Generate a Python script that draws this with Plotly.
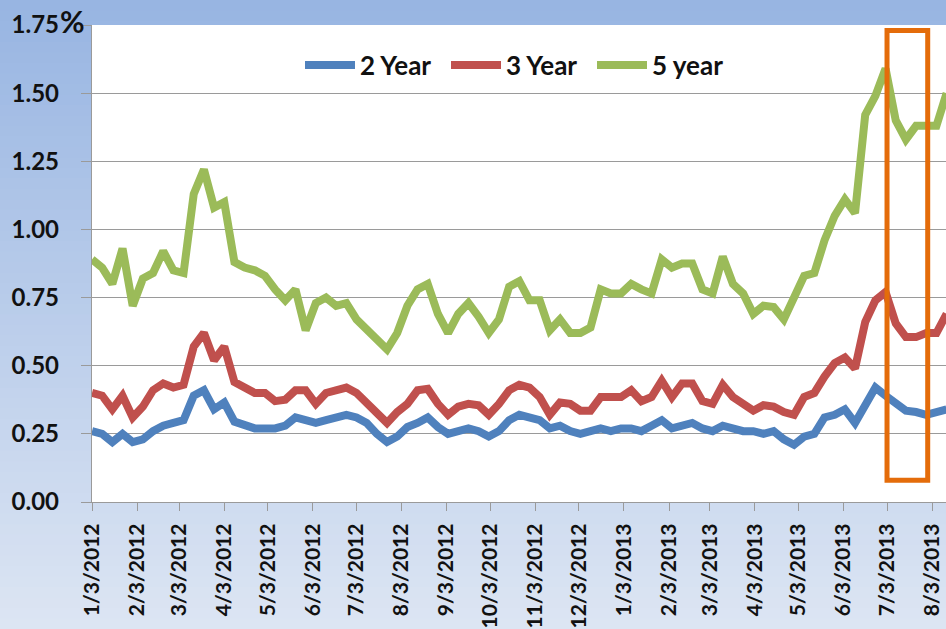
import pandas as pd
import plotly.graph_objects as go

# Weekly observations (Tuesdays) starting 3 Jan 2012
start_date = "2012-01-03"
n_weeks = 85

yield_2y = [
    0.26, 0.25, 0.22, 0.25, 0.22, 0.23, 0.26, 0.28, 0.29, 0.30,
    0.39, 0.41, 0.34, 0.365, 0.295, 0.28, 0.27, 0.27, 0.27, 0.28,
    0.31, 0.30, 0.29, 0.30, 0.31, 0.32, 0.31, 0.29, 0.25, 0.22,
    0.24, 0.275, 0.29, 0.31, 0.275, 0.25, 0.26, 0.27, 0.26, 0.24,
    0.26, 0.30, 0.32, 0.31, 0.30, 0.27, 0.28, 0.26, 0.25, 0.26,
    0.27, 0.26, 0.27, 0.27, 0.26, 0.28, 0.30, 0.27, 0.28, 0.29,
    0.27, 0.26, 0.28, 0.27, 0.26, 0.26, 0.25, 0.26, 0.23, 0.21,
    0.24, 0.25, 0.31, 0.32, 0.34, 0.29, 0.36, 0.42, 0.39, 0.36,
    0.335, 0.33, 0.32, 0.33, 0.34,
]

yield_3y = [
    0.40, 0.39, 0.34, 0.39, 0.31, 0.35, 0.41, 0.435, 0.42, 0.43,
    0.57, 0.62, 0.52, 0.57, 0.44, 0.42, 0.40, 0.40, 0.37, 0.375,
    0.41, 0.41, 0.36, 0.40, 0.41, 0.42, 0.40, 0.365, 0.32, 0.29,
    0.33, 0.36, 0.41, 0.415, 0.36, 0.32, 0.35, 0.36, 0.355, 0.32,
    0.36, 0.41, 0.43, 0.42, 0.385, 0.32, 0.365, 0.36, 0.335, 0.335,
    0.385, 0.385, 0.385, 0.41, 0.37, 0.385, 0.445, 0.385, 0.435, 0.435,
    0.37, 0.36, 0.43, 0.385, 0.36, 0.335, 0.355, 0.35, 0.33, 0.32,
    0.385, 0.40, 0.46, 0.51, 0.53, 0.49, 0.66, 0.74, 0.77, 0.655,
    0.605, 0.605, 0.62, 0.62, 0.69,
]

yield_5y = [
    0.89, 0.86, 0.80, 0.93, 0.72, 0.82, 0.84, 0.92, 0.85, 0.84,
    1.13, 1.22, 1.08, 1.10, 0.88, 0.86, 0.85, 0.83, 0.78, 0.74,
    0.78, 0.63, 0.73, 0.75, 0.72, 0.73, 0.67, 0.635, 0.605, 0.56,
    0.62, 0.72, 0.78, 0.80, 0.69, 0.62, 0.69, 0.73, 0.68, 0.62,
    0.67, 0.79, 0.81, 0.74, 0.74, 0.63, 0.67, 0.62, 0.62, 0.64,
    0.78, 0.765, 0.765, 0.80, 0.78, 0.765, 0.89, 0.86, 0.875, 0.875,
    0.78, 0.765, 0.90, 0.80, 0.765, 0.69, 0.72, 0.715, 0.67, 0.75,
    0.83, 0.84, 0.96, 1.05, 1.11, 1.06, 1.42, 1.49, 1.59, 1.40,
    1.33, 1.38, 1.38, 1.38, 1.50,
]

series_names = ["2 Year", "3 Year", "5 year"]
series_colors = ["#4F81BD", "#C0504D", "#9BBB59"]

# Monthly tick marks on the 3rd of each month
tick_dates = pd.date_range("2012-01-03", "2013-08-03", freq=pd.DateOffset(months=1))
tick_labels = [f"{d.month}/{d.day}/{d.year}" for d in tick_dates]

x_range = ["2012-01-03", "2013-08-12 14:00"]
y_ticks = [0, 0.25, 0.5, 0.75, 1.0, 1.25, 1.5, 1.75]

# Highlighted window
highlight_start = "2013-07-03"
highlight_end = "2013-07-31"
highlight_low = 0.08
highlight_high = 1.73

dates = pd.date_range(start_date, periods=n_weeks, freq="7D")

W, H = 946, 629
ML, MR, MT, MB = 92, 0, 25, 127
FONT = dict(family="Lato", size=24, color="#111111", weight="bold")
XTICK_FONT = dict(family="Lato", size=21, color="#111111", weight="bold")
LEGEND_FONT = dict(family="Lato", size=26, color="#111111", weight="bold")
GRID = "#9a9a9a"

fig = go.Figure()
for name, color, vals in zip(series_names, series_colors, [yield_2y, yield_3y, yield_5y]):
    fig.add_trace(go.Scatter(
        x=dates, y=vals, name=name, mode="lines",
        line=dict(color=color, width=8),
    ))

# Vertical blue gradient behind the whole figure
plot_w = W - ML - MR
plot_h = H - MT - MB
top_c = (152, 181, 226)
bot_c = (220, 229, 243)
n_bands = 60
shapes = []
for i in range(n_bands):
    t = i / (n_bands - 1)
    c = tuple(round(top_c[j] + (bot_c[j] - top_c[j]) * t) for j in range(3))
    py0 = H * i / n_bands
    py1 = H * (i + 1) / n_bands + 1
    shapes.append(dict(
        type="rect", xref="paper", yref="paper", layer="below",
        x0=-ML / plot_w, x1=1 + MR / plot_w + 0.01,
        y0=(H - MB - py1) / plot_h, y1=(H - MB - py0) / plot_h,
        fillcolor=f"rgb{c}", line=dict(width=0),
    ))
shapes.append(dict(
    type="rect", xref="paper", yref="paper", layer="below",
    x0=0, x1=1, y0=0, y1=1, fillcolor="white", line=dict(width=0),
))
shapes.append(dict(
    type="rect", xref="x", yref="y", layer="above",
    x0=highlight_start, x1=highlight_end, y0=highlight_low, y1=highlight_high,
    line=dict(color="#E46C0A", width=5), fillcolor="rgba(0,0,0,0)",
))

fig.update_layout(
    width=W, height=H,
    margin=dict(l=ML, r=MR, t=MT, b=MB, autoexpand=False),
    paper_bgcolor="rgb(186,205,235)",
    plot_bgcolor="white",
    font=FONT,
    shapes=shapes,
    showlegend=True,
    legend=dict(
        orientation="h", x=(300 - ML) / plot_w, xanchor="left",
        y=0.916, yanchor="middle",
        bgcolor="rgba(0,0,0,0)", font=LEGEND_FONT, itemwidth=50,
        entrywidth=81, entrywidthmode="pixels",
    ),
    xaxis=dict(
        type="date", range=x_range, automargin=False,
        tickvals=tick_dates, ticktext=tick_labels, tickangle=-90,
        ticks="outside", ticklen=8, tickcolor=GRID, tickwidth=1.3,
        showline=True, linecolor=GRID, linewidth=1.3,
        showgrid=False, zeroline=False, ticklabelstandoff=4,
        tickfont=XTICK_FONT,
    ),
    yaxis=dict(
        range=[0, 1.75], tickvals=y_ticks, tickformat=".2f", automargin=False,
        ticks="outside", ticklen=10, tickcolor=GRID, tickwidth=1.3,
        showline=True, linecolor=GRID, linewidth=1.3,
        showgrid=True, gridcolor=GRID, gridwidth=1.3,
        zeroline=False, ticklabelstandoff=17, tickfont=FONT,
    ),
    annotations=[dict(
        text="%", xref="paper", yref="paper", x=-20 / plot_w, y=1 + 4 / plot_h,
        xanchor="center", yanchor="middle", showarrow=False,
        font=dict(family="Lato", size=30, color="#111111", weight="bold"),
    )],
)

fig.write_html("out.html")
